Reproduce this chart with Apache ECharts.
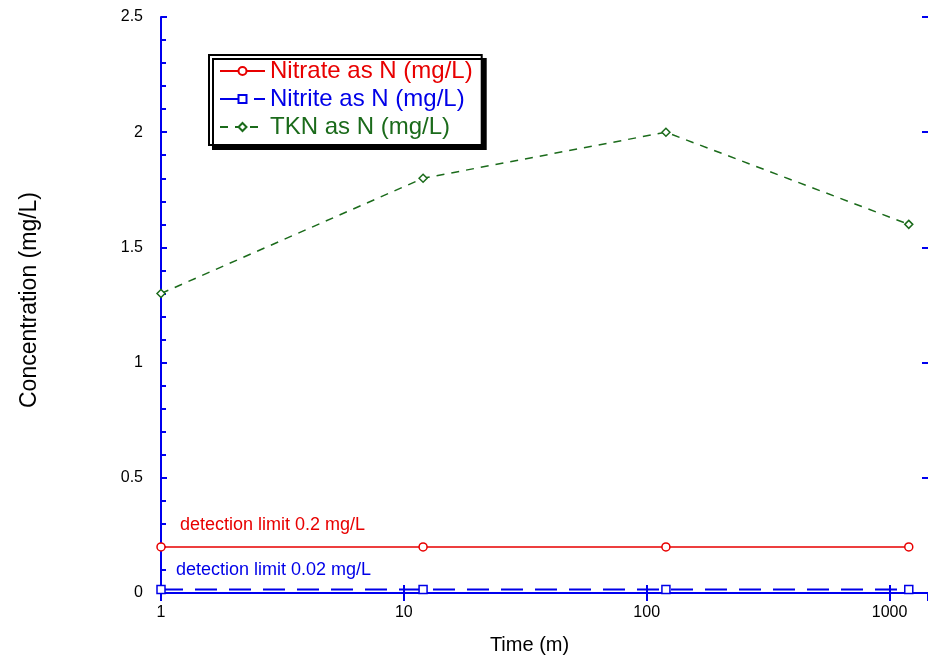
<!DOCTYPE html>
<html lang="en">
  <head>
    <meta charset="UTF-8" />
    <title>Nitrogen concentration vs time</title>
    <script src="https://cdn.jsdelivr.net/npm/echarts@6/dist/echarts.min.js"></script>
    <style>
      html, body { margin: 0; padding: 0; background: #fff; }
      #main { width: 928px; height: 662px; }
    </style>
  </head>
  <body>
    <div id="main"></div>

    <script>
      // data
      var times = [1, 12, 120, 1200];
      var nitrate = [0.2, 0.2, 0.2, 0.2];
      var nitrite = [0.015, 0.015, 0.015, 0.015];
      var tkn = [1.3, 1.8, 2.0, 1.6];
      var seriesNames = ["Nitrate as N (mg/L)", "Nitrite as N (mg/L)", "TKN as N (mg/L)"];

      var RED = "#e80000";
      var BLUE = "#0000e8";
      var GREEN = "#1b6b1b";
      var AXIS = "#0000ee";
      var FONT = "Liberation Sans, Arial, sans-serif";

      function pairs(ys) {
        return times.map((t, i) => [t, ys[i]]);
      }

      var chart = echarts.init(document.getElementById("main"));

      var xBase = {
        type: "log",
        logBase: 10,
        min: 1,
        max: 1440,
        axisLine: { lineStyle: { color: AXIS, width: 2 } },
        axisTick: { inside: true, length: 8, lineStyle: { color: AXIS, width: 2 } },
        splitLine: { show: false },
      };
      var yBase = {
        type: "value",
        min: 0,
        max: 2.5,
        interval: 0.5,
        axisLine: { show: true, lineStyle: { color: AXIS, width: 2 } },
        axisTick: { show: true, inside: true, length: 6, lineStyle: { color: AXIS, width: 2 } },
        splitLine: { show: false },
      };

      var option = {
        animation: false,
        backgroundColor: "#fff",
        textStyle: { fontFamily: FONT },
        grid: { left: 161, top: 17, width: 770, height: 576 },
        legend: {
          orient: "vertical",
          left: 209,
          top: 55,
          padding: [4, 9, 6, 10],
          itemWidth: 45,
          itemHeight: 10,
          itemGap: 4,
          backgroundColor: "#fff",
          borderColor: "#000",
          borderWidth: 2,
          shadowColor: "#000",
          shadowBlur: 0,
          shadowOffsetX: 4,
          shadowOffsetY: 4,
          textStyle: { fontSize: 24, lineHeight: 22, fontFamily: FONT },
          data: [
            { name: seriesNames[0], textStyle: { color: RED } },
            { name: seriesNames[1], textStyle: { color: BLUE } },
            { name: seriesNames[2], textStyle: { color: GREEN } },
          ],
        },
        xAxis: [
          Object.assign({}, xBase, {
            position: "bottom",
            name: "Time (m)",
            nameLocation: "middle",
            nameGap: 42,
            nameTextStyle: { fontSize: 20, color: "#000", padding: [0, 30, 0, 0] },
            axisLabel: {
              color: "#000",
              fontSize: 16,
              margin: 12,
              showMaxLabel: false,
              formatter: (v) => String(Math.round(v)),
            },
          }),
          Object.assign({}, xBase, {
            position: "top",
            axisLabel: { show: false },
          }),
        ],
        yAxis: [
          Object.assign({}, yBase, {
            position: "left",
            name: "Concentration (mg/L)",
            nameLocation: "middle",
            nameGap: 120,
            nameTextStyle: { fontSize: 23, color: "#000", padding: [0, 0, 0, 10] },
            minorTick: { show: true, splitNumber: 5, length: 5, lineStyle: { color: AXIS, width: 2 } },
            axisLabel: { color: "#000", fontSize: 16, margin: 18 },
          }),
          Object.assign({}, yBase, {
            position: "right",
            axisLine: { show: false },
            axisLabel: { show: false },
          }),
        ],
        graphic: [
          {
            type: "text",
            left: 180,
            top: 516,
            style: { text: "detection limit 0.2 mg/L", fill: RED, font: "18px " + FONT },
          },
          {
            type: "text",
            left: 176,
            top: 561,
            style: { text: "detection limit 0.02 mg/L", fill: BLUE, font: "18px " + FONT },
          },
        ],
        series: [
          {
            name: seriesNames[0],
            type: "line",
            data: pairs(nitrate),
            color: RED,
            symbol: "circle",
            symbolSize: 8,
            itemStyle: { color: "#fff", borderColor: RED, borderWidth: 1.5 },
            lineStyle: { color: RED, width: 1.5 },
            z: 3,
          },
          {
            name: seriesNames[1],
            type: "line",
            data: pairs(nitrite),
            color: BLUE,
            symbol: "rect",
            symbolSize: 8,
            itemStyle: { color: "#fff", borderColor: BLUE, borderWidth: 1.5 },
            lineStyle: { color: BLUE, width: 2, type: [22, 12] },
            z: 3,
          },
          {
            name: seriesNames[2],
            type: "line",
            data: pairs(tkn),
            color: GREEN,
            symbol: "diamond",
            symbolSize: 8,
            itemStyle: { color: "#fff", borderColor: GREEN, borderWidth: 1.5 },
            lineStyle: { color: GREEN, width: 1.5, type: [8, 7] },
            z: 3,
          },
        ],
      };

      chart.setOption(option);
    </script>
  </body>
</html>
